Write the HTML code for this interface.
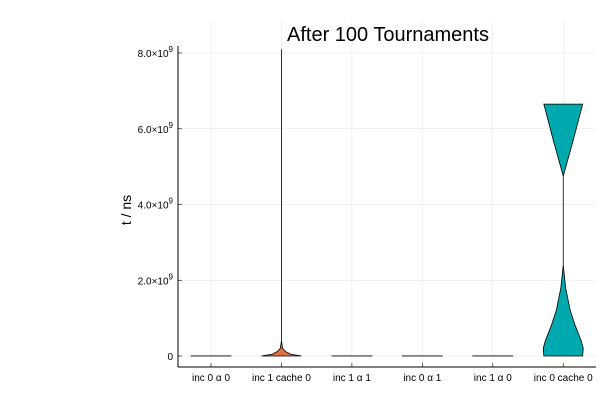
<!DOCTYPE html>
<html><head><meta charset="utf-8"><style>
body{margin:0;background:#fff;}
svg{display:block;font-family:"Liberation Sans",sans-serif;}
</style></head><body>
<svg id="chart" width="600" height="400">
<text x="388" y="41" font-size="20" text-anchor="middle">After 100 Tournaments</text>
<text transform="translate(131,210) rotate(-90)" font-size="14" text-anchor="middle">t / ns</text>
<g id="grid"></g><g id="marks"></g><g id="axes"></g>
</svg>
<script>
const categories=["inc 0 \u03b1 0","inc 1 cache 0","inc 1 \u03b1 1","inc 0 \u03b1 1","inc 1 \u03b1 0","inc 0 cache 0"];
const colors=["#009af9","#e26f46","#3da44d","#c271d2","#ac8e18","#00a9ad"];
// density profiles: values (ns) and relative half-widths
const profVals=[
 [0,1e6],
 [0,5e7,1.2e8,2e8,4e8,8.1e9],
 [0,1e6],
 [0,1e6],
 [0,1e6],
 [0,2e8,4e8,8e8,1.2e9,1.8e9,2.4e9,3.5e9,4.75e9,5.7e9,6.65e9]
];
const profWidths=[
 [1,1],
 [1,0.45,0.2,0.06,0,0],
 [1,1],
 [1,1],
 [1,1],
 [0.97,1,0.9,0.6,0.35,0.12,0,0,0,0.5,0.97]
];
const yTicks=[0,2e9,4e9,6e9,8e9];
const yTickLabels=["0","2.0\u00d710<tspan dy='-5' font-size='8'>9</tspan>","4.0\u00d710<tspan dy='-5' font-size='8'>9</tspan>","6.0\u00d710<tspan dy='-5' font-size='8'>9</tspan>","8.0\u00d710<tspan dy='-5' font-size='8'>9</tspan>"];
const X0=211,DX=70.45,HW=20,L=178,R=596,B=367;
const y=v=>356-v*(356-53)/8e9;
const x=i=>X0+i*DX;
const NS="http://www.w3.org/2000/svg";
function mk(t,a,p){const e=document.createElementNS(NS,t);for(const k in a)e.setAttribute(k,a[k]);p.appendChild(e);return e;}
const grid=document.getElementById('grid'),marks=document.getElementById('marks'),axes=document.getElementById('axes');
yTicks.forEach((v,i)=>{
 const g=mk('line',{x1:L,x2:R,y1:y(v),y2:y(v),stroke:'#000','stroke-opacity':0.1,'stroke-width':0.5},grid);
 
 
 mk('line',{x1:L,x2:L+4,y1:y(v),y2:y(v),stroke:'#000','stroke-width':0.6},axes);
 const t=mk('text',{x:L-5,y:y(v)+4,'font-size':10,'text-anchor':'end'},axes);
 t.innerHTML=yTickLabels[i];
 
 
});
categories.forEach((c,i)=>{
 const g=mk('line',{x1:x(i),x2:x(i),y1:B,y2:22,stroke:'#000','stroke-opacity':0.1,'stroke-width':0.5},grid);
 
 
 mk('line',{x1:x(i),x2:x(i),y1:B,y2:B-4,stroke:'#000','stroke-width':0.6},axes);
 const t=mk('text',{x:x(i),y:381,'font-size':10,'text-anchor':'middle'},axes);
 t.textContent=c;
 
 
 const vs=profVals[i],ws=profWidths[i];
 let r=[],l=[];
 vs.forEach((v,j)=>{const w=ws[j]*HW;r.push((x(i)+w)+','+y(v));l.unshift((x(i)-w)+','+y(v));});
 const p=mk('polygon',{points:r.concat(l).join(' '),fill:colors[i],stroke:'#000','stroke-width':0.8,'stroke-linejoin':'miter'},marks);
 
 
});
mk('line',{x1:L,x2:L,y1:B,y2:46,stroke:'#000','stroke-width':1},axes);
mk('line',{x1:L,x2:R,y1:B,y2:B,stroke:'#000','stroke-width':1},axes);
</script>
</body></html>
